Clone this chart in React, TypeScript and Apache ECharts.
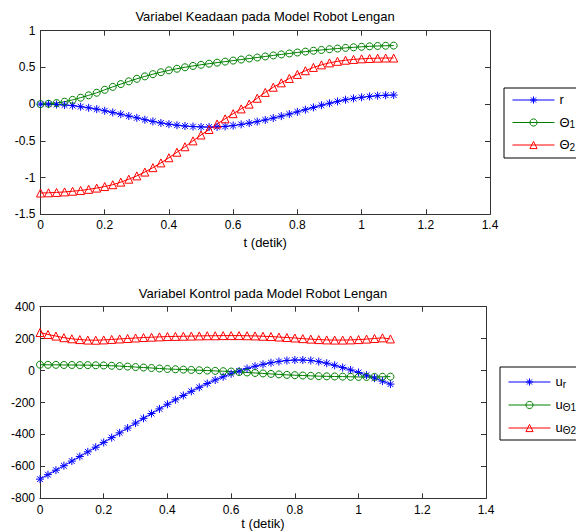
import React, { useEffect, useRef } from 'react';
import * as echarts from 'echarts';

const T = [0, 0.025, 0.05, 0.075, 0.1, 0.125, 0.15, 0.175, 0.2, 0.225, 0.25, 0.275, 0.3, 0.325, 0.35, 0.375, 0.4, 0.425, 0.45, 0.475, 0.5, 0.525, 0.55, 0.575, 0.6, 0.625, 0.65, 0.675, 0.7, 0.725, 0.75, 0.775, 0.8, 0.825, 0.85, 0.875, 0.9, 0.925, 0.95, 0.975, 1.0, 1.025, 1.05, 1.075, 1.1];

const R = [0, 0, -0.005, -0.012, -0.02, -0.035, -0.05, -0.068, -0.09, -0.113, -0.137, -0.162, -0.187, -0.212, -0.235, -0.256, -0.273, -0.287, -0.298, -0.305, -0.31, -0.312, -0.31, -0.303, -0.292, -0.276, -0.258, -0.238, -0.215, -0.19, -0.163, -0.135, -0.105, -0.075, -0.045, -0.015, 0.012, 0.037, 0.06, 0.078, 0.093, 0.105, 0.115, 0.121, 0.124];

const TH1 = [0, 0.005, 0.015, 0.033, 0.058, 0.088, 0.12, 0.155, 0.195, 0.235, 0.273, 0.31, 0.345, 0.378, 0.408, 0.435, 0.46, 0.482, 0.502, 0.52, 0.536, 0.551, 0.565, 0.579, 0.593, 0.607, 0.621, 0.635, 0.649, 0.663, 0.677, 0.69, 0.703, 0.715, 0.727, 0.738, 0.748, 0.757, 0.766, 0.774, 0.781, 0.787, 0.792, 0.795, 0.797];

const TH2 = [-1.21, -1.207, -1.202, -1.195, -1.186, -1.175, -1.16, -1.143, -1.122, -1.097, -1.062, -1.022, -0.977, -0.925, -0.865, -0.8, -0.73, -0.655, -0.58, -0.5, -0.42, -0.345, -0.27, -0.2, -0.13, -0.065, 0.0, 0.08, 0.16, 0.23, 0.29, 0.35, 0.405, 0.455, 0.5, 0.535, 0.562, 0.583, 0.598, 0.609, 0.617, 0.622, 0.626, 0.628, 0.628];

const UR = [-680, -652, -624, -596, -567, -538, -509, -480, -450, -420, -390, -360, -329, -299, -269, -240, -211, -183, -156, -130, -105, -81, -59, -39, -20, -3, 13, 27, 39, 49, 57, 63, 66, 66, 63, 56, 46, 33, 19, 4, -12, -29, -47, -66, -85];

const UTH1 = [37, 36, 36, 35, 35, 34, 34, 33, 32, 30, 28, 25, 22, 19, 16, 13, 10, 8, 6, 4, 2, 0, -2, -4, -6, -9, -12, -15, -18, -21, -24, -27, -29, -31, -33, -35, -36, -37, -38, -39, -40, -40, -40, -39, -38];

const UTH2 = [238, 226, 216, 206, 199, 194, 191, 190, 192, 195, 198, 201, 204, 207, 209, 211, 213, 214, 215, 216, 217, 218, 218, 219, 219, 219, 218, 217, 215, 213, 210, 207, 204, 200, 197, 194, 192, 191, 191, 192, 194, 197, 201, 205, 198];

const TITLE_TOP = 'Variabel Keadaan pada Model Robot Lengan';
const TITLE_BOTTOM = 'Variabel Kontrol pada Model Robot Lengan';
const X_NAME = 't (detik)';

const FONT = '"Liberation Sans", Arial, Helvetica, sans-serif';
const AX = '#333';
const BLUE = '#0000ff';
const GREEN = '#008000';
const RED = '#ff0000';
const STAR = 'path://M0,-5L0,5M-5,0L5,0M-3.6,-3.6L3.6,3.6M-3.6,3.6L3.6,-3.6';

const LEGEND_TEXT: Record<string, string> = {
  r: '{m|r}{s| }',
  th1: '{m|Θ}{s|1}',
  th2: '{m|Θ}{s|2}',
  ur: '{m|u}{s|r}',
  uth1: '{m|u}{s|Θ1}',
  uth2: '{m|u}{s|Θ2}',
};

function mainX(grid: number, nameGap: number, margin: number) {
  return {
    type: 'value', gridIndex: grid, min: 0, max: 1.4, interval: 0.2, position: 'bottom',
    name: X_NAME, nameLocation: 'middle', nameGap,
    nameTextStyle: { fontFamily: FONT, fontSize: 13, color: '#000' },
    axisLine: { show: true, onZero: false, lineStyle: { color: AX, width: 1 } },
    axisTick: { show: true, inside: true, length: 5, lineStyle: { color: AX } },
    axisLabel: { show: true, margin, fontFamily: FONT, fontSize: 12, color: '#000', showMinLabel: true, showMaxLabel: true },
    splitLine: { show: false },
  };
}
function sideX(grid: number) {
  return {
    type: 'value', gridIndex: grid, min: 0, max: 1.4, interval: 0.2, position: 'top',
    axisLine: { show: true, onZero: false, lineStyle: { color: AX, width: 1 } },
    axisTick: { show: true, inside: true, length: 5, lineStyle: { color: AX } },
    axisLabel: { show: false },
    splitLine: { show: false },
  };
}
function mainY(grid: number, min: number, max: number, interval: number) {
  return {
    type: 'value', gridIndex: grid, min, max, interval, position: 'left',
    axisLine: { show: true, onZero: false, lineStyle: { color: AX, width: 1 } },
    axisTick: { show: true, inside: true, length: 5, lineStyle: { color: AX } },
    axisLabel: { show: true, margin: 5, fontFamily: FONT, fontSize: 12, color: '#000', showMinLabel: true, showMaxLabel: true },
    splitLine: { show: false },
  };
}
function sideY(grid: number, min: number, max: number, interval: number) {
  return {
    type: 'value', gridIndex: grid, min, max, interval, position: 'right',
    axisLine: { show: true, onZero: false, lineStyle: { color: AX, width: 1 } },
    axisTick: { show: true, inside: true, length: 5, lineStyle: { color: AX } },
    axisLabel: { show: false },
    splitLine: { show: false },
  };
}

function mk(name: string, ys: number[], color: string, symbol: string, size: number, xi: number, yi: number) {
  return {
    type: 'line', name, xAxisIndex: xi, yAxisIndex: yi,
    data: T.map((t, i) => [t, ys[i]]),
    symbol, symbolSize: size, showSymbol: true, showAllSymbol: true,
    lineStyle: { color, width: 1 },
    itemStyle: { color: 'rgba(255,255,255,0)', borderColor: color, borderWidth: 1 },
    emphasis: { disabled: true }, silent: true, clip: false,
  };
}

const RICH = {
  m: { fontFamily: FONT, fontSize: 13, color: '#000', lineHeight: 14, verticalAlign: 'top' },
  s: { fontFamily: FONT, fontSize: 10, color: '#000', lineHeight: 10, verticalAlign: 'bottom', padding: [8, 0, 0, 0] },
};

function legend(names: string[], left: number, top: number, gap: number, padding: number[]) {
  return {
    data: names, orient: 'vertical', left, top, itemWidth: 42, itemHeight: 9, itemGap: gap,
    padding, borderColor: '#000', borderWidth: 1, backgroundColor: '#fff', selectedMode: false,
    lineStyle: { width: 1 },
    itemStyle: { borderWidth: 1 },
    formatter: (n: string) => LEGEND_TEXT[n],
    textStyle: { fontFamily: FONT, fontSize: 13, color: '#000', rich: RICH },
  };
}

export default function App() {
  const ref = useRef<HTMLDivElement>(null);
  useEffect(() => {
    if (!ref.current) return;
    const chart = echarts.init(ref.current, undefined, { renderer: 'svg' });
    chart.setOption({
      animation: false,
      backgroundColor: '#fff',
      grid: [
        { left: 40.5, right: 86, top: 30.7, height: 183.6 },
        { left: 40, right: 90, top: 306.7, height: 191.6 },
      ],
      xAxis: [mainX(0, 22, 5), sideX(0), mainX(1, 19, 6), sideX(1)],
      yAxis: [mainY(0, -1.5, 1, 0.5), sideY(0, -1.5, 1, 0.5), mainY(1, -800, 400, 200), sideY(1, -800, 400, 200)],
      legend: [
        legend(['r', 'th1', 'th2'], 504, 88, 4.5, [1, 4, 6, 8]),
        legend(['ur', 'uth1', 'uth2'], 500, 367, 5, [4, 30, 5, 8]),
      ],
      graphic: [
        { type: 'text', x: 265, y: 16, style: { text: TITLE_TOP, align: 'center', verticalAlign: 'middle', font: '13px ' + FONT, fill: '#000' } },
        { type: 'text', x: 263, y: 293, style: { text: TITLE_BOTTOM, align: 'center', verticalAlign: 'middle', font: '13px ' + FONT, fill: '#000' } },
      ],
      series: [
        mk('r', R, BLUE, STAR, 8, 0, 0),
        mk('th1', TH1, GREEN, 'circle', 7, 0, 0),
        mk('th2', TH2, RED, 'triangle', 8, 0, 0),
        mk('ur', UR, BLUE, STAR, 8, 2, 2),
        mk('uth1', UTH1, GREEN, 'circle', 7, 2, 2),
        mk('uth2', UTH2, RED, 'triangle', 8, 2, 2),
      ],
    });
    return () => chart.dispose();
  }, []);
  return <div ref={ref} style={{ position: 'fixed', left: 0, top: 0, width: 576, height: 532, background: '#fff' }} />;
}
